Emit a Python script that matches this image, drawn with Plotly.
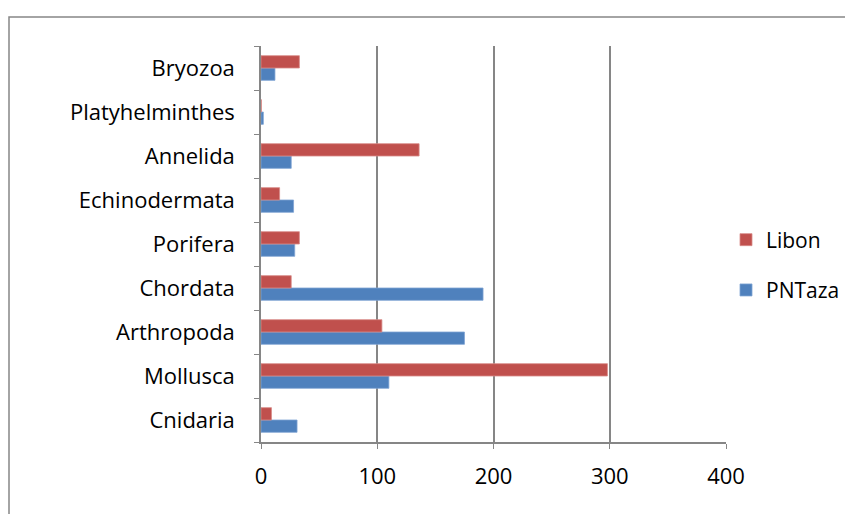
import plotly.graph_objects as go

categories = ["Cnidaria", "Mollusca", "Arthropoda", "Chordata", "Porifera",
              "Echinodermata", "Annelida", "Platyhelminthes", "Bryozoa"]
pntaza = [31, 110, 175, 191, 29, 28, 26, 2, 12]
libon = [9, 298, 104, 26, 33, 16, 136, 0.3, 33]
x_ticks = [0, 100, 200, 300, 400]

OFF = 8  # page body margin
W, H = 853, 514
L, R, T, B = 261 - OFF, 726 - OFF, 46 - OFF, 442 - OFF

fig = go.Figure()
fig.add_trace(go.Bar(y=categories, x=pntaza, name="PNTaza", orientation="h",
                     marker=dict(color="#4F81BD", line=dict(color="#7FA3D3", width=0.8)),
                     legendgroup="b", legendrank=2))
fig.add_trace(go.Bar(y=categories, x=libon, name="Libon", orientation="h",
                     marker=dict(color="#C0504D", line=dict(color="#D88A88", width=0.8)),
                     legendgroup="a", legendrank=1))

pw = R - L
ph = B - T
fig.add_shape(type="rect", xref="paper", yref="paper",
              x0=(9 - OFF - L) / pw, x1=(849 - OFF - L) / pw,
              y0=(B - 530) / ph, y1=(B - (17 - OFF)) / ph,
              line=dict(color="#868686", width=1.5), fillcolor="rgba(0,0,0,0)", layer="below")

fig.update_layout(
    width=W, height=H,
    margin=dict(l=L, r=W - R, t=T, b=H - B, pad=0),
    paper_bgcolor="white", plot_bgcolor="white",
    barmode="group", bargap=0.44, bargroupgap=0.0,
    font=dict(family="Open Sans, sans-serif", size=22, color="#000000"),
    showlegend=True,
    legend=dict(x=(726 - OFF - L) / pw, y=(B - (265 - OFF)) / ph, xanchor="left", yanchor="middle",
                traceorder="grouped", tracegroupgap=20,
                font=dict(size=21), bgcolor="rgba(0,0,0,0)"),
    xaxis=dict(range=[0, 400], tickvals=x_ticks, showgrid=True, gridcolor="#868686",
               gridwidth=1.5, zeroline=False, showline=True, linecolor="#868686",
               linewidth=1.5, ticks="outside", ticklen=5, tickcolor="#868686",
               ticklabelstandoff=9),
    yaxis=dict(showgrid=False, showline=True, linecolor="#868686", linewidth=1.5,
               ticks="outside", ticklen=5, tickcolor="#868686", tickson="boundaries",
               ticklabelstandoff=20, categoryorder="array", categoryarray=categories),
)

fig.write_html("out.html")
